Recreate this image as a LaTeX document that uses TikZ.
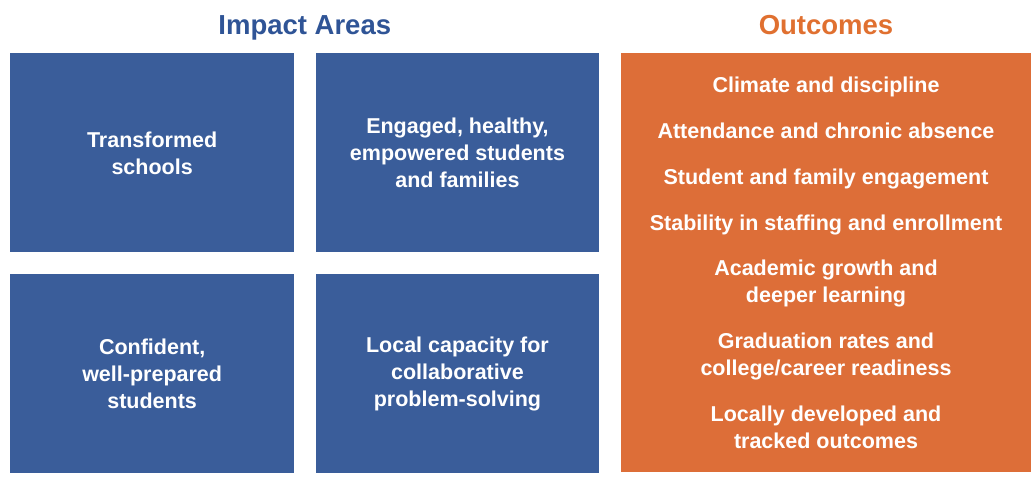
\documentclass[tikz,border=0pt]{standalone}
\usepackage{fontspec}
\setmainfont{Liberation Sans}
\usepackage{tikz}
\usetikzlibrary{positioning, calc}
\definecolor{impactblue}{RGB}{58,93,154}
\definecolor{impacttitle}{RGB}{47,84,150}
\definecolor{outorange}{RGB}{221,110,56}
\definecolor{outtitle}{RGB}{224,112,48}
\newcommand{\boxfont}{\bfseries\fontsize{10.75}{13.5}\selectfont}
\newcommand{\headfont}{\bfseries\fontsize{13.75}{16}\selectfont}
\tikzstyle{impact} = [rectangle, minimum width=141.75pt, minimum height=99.5pt, align=center, text centered, fill=impactblue, text=white, font=\boxfont]
\tikzstyle{outcome} = [rectangle, minimum width=205pt, minimum height=209.5pt, align=center, text centered, fill=outorange, text=white, font=\boxfont]
\tikzstyle{heading} = [anchor=base, inner sep=0pt, font=\headfont]

\begin{document}
\begin{tikzpicture}[node distance=10.5pt]
\useasboundingbox (0,0) rectangle (516pt,-238pt);
\node (transformed) [impact, anchor=north west] at (5pt,-26.5pt) {Transformed\\schools};
\node (engaged) [impact, right=of transformed] {Engaged, healthy,\\empowered students\\and families};
\node (confident) [impact, below=of transformed] {Confident,\\well-prepared\\students};
\node (local) [impact, below=of engaged] {Local capacity for\\collaborative\\problem-solving};
\node (outcomes) [outcome, right=of engaged.north east, anchor=north west] {Climate and discipline\\[9.35pt]
  Attendance and chronic absence\\[9.35pt]
  Student and family engagement\\[9.35pt]
  Stability in staffing and enrollment\\[9.35pt]
  Academic growth and\\deeper learning\\[9.35pt]
  Graduation rates and\\college/career readiness\\[9.35pt]
  Locally developed and\\tracked outcomes};

\node (impacthead) [heading, text=impacttitle] at ([yshift=9pt]$(transformed.north east)!0.5!(engaged.north west)$) {Impact Areas};
\node (outhead) [heading, text=outtitle] at ([yshift=9pt]outcomes.north) {Outcomes};
\end{tikzpicture}
\end{document}
